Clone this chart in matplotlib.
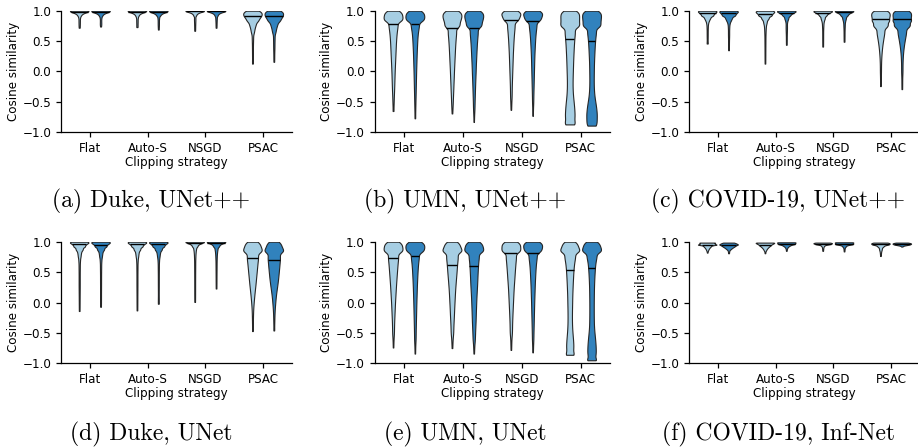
import numpy as np
import matplotlib.pyplot as plt

# Cosine similarity distributions: (value, relative density).
# Order inside each list: Flat, Auto-S, NSGD, PSAC. "_s1" = light blue, "_s2" = dark blue.
strategies = ["Flat", "Auto-S", "NSGD", "PSAC"]

duke_unetpp_s1 = [
    [(1.0, 1.0), (0.98, 0.7), (0.96, 0.4), (0.94, 0.22), (0.92, 0.12), (0.9, 0.08), (0.87, 0.065), (0.82, 0.06), (0.77, 0.055), (0.72, 0.05)],
    [(1.0, 1.0), (0.98, 0.65), (0.96, 0.37), (0.94, 0.2), (0.92, 0.11), (0.9, 0.08), (0.87, 0.065), (0.82, 0.06), (0.77, 0.055), (0.73, 0.05)],
    [(1.0, 1.0), (0.98, 0.5), (0.96, 0.25), (0.94, 0.13), (0.92, 0.08), (0.9, 0.06), (0.85, 0.05), (0.8, 0.045), (0.74, 0.04), (0.67, 0.04)],
    [(1.0, 0.75), (0.96, 1.0), (0.92, 0.95), (0.88, 0.75), (0.84, 0.55), (0.8, 0.42), (0.75, 0.3), (0.7, 0.2), (0.65, 0.13), (0.6, 0.09), (0.5, 0.06), (0.4, 0.05), (0.3, 0.045), (0.2, 0.04), (0.13, 0.04)],
]
duke_unetpp_s2 = [
    [(1.0, 1.0), (0.98, 0.7), (0.96, 0.4), (0.94, 0.22), (0.92, 0.12), (0.9, 0.08), (0.87, 0.065), (0.82, 0.06), (0.78, 0.055), (0.74, 0.05)],
    [(1.0, 1.0), (0.98, 0.7), (0.96, 0.4), (0.94, 0.22), (0.92, 0.12), (0.9, 0.08), (0.86, 0.06), (0.8, 0.05), (0.75, 0.045), (0.69, 0.04)],
    [(1.0, 1.0), (0.98, 0.55), (0.96, 0.28), (0.94, 0.15), (0.92, 0.09), (0.9, 0.06), (0.86, 0.05), (0.8, 0.045), (0.72, 0.04)],
    [(1.0, 0.8), (0.96, 1.0), (0.92, 0.97), (0.88, 0.8), (0.84, 0.6), (0.8, 0.45), (0.75, 0.32), (0.7, 0.22), (0.65, 0.14), (0.6, 0.1), (0.5, 0.07), (0.4, 0.055), (0.3, 0.05), (0.16, 0.045)],
]
duke_unetpp_med = [[0.985, 0.985, 0.99, 0.91], [0.985, 0.985, 0.99, 0.91]]

umn_unetpp_s1 = [
    [(1.0, 0.72), (0.95, 1.0), (0.9, 0.95), (0.85, 0.8), (0.8, 0.6), (0.7, 0.45), (0.6, 0.38), (0.5, 0.33), (0.4, 0.3), (0.3, 0.27), (0.2, 0.24), (0.1, 0.21), (0.0, 0.18), (-0.1, 0.16), (-0.2, 0.14), (-0.3, 0.12), (-0.4, 0.09), (-0.5, 0.07), (-0.6, 0.05), (-0.65, 0.03)],
    [(1.0, 0.72), (0.95, 1.0), (0.9, 1.0), (0.85, 0.9), (0.8, 0.72), (0.75, 0.58), (0.7, 0.5), (0.6, 0.42), (0.5, 0.37), (0.4, 0.33), (0.3, 0.3), (0.2, 0.27), (0.1, 0.24), (0.0, 0.21), (-0.1, 0.19), (-0.2, 0.16), (-0.3, 0.14), (-0.4, 0.11), (-0.5, 0.09), (-0.6, 0.06), (-0.69, 0.03)],
    [(1.0, 0.75), (0.95, 1.0), (0.9, 0.78), (0.85, 0.55), (0.8, 0.43), (0.7, 0.35), (0.6, 0.3), (0.5, 0.26), (0.4, 0.23), (0.3, 0.2), (0.2, 0.18), (0.1, 0.16), (0.0, 0.14), (-0.1, 0.12), (-0.2, 0.1), (-0.3, 0.085), (-0.4, 0.07), (-0.5, 0.055), (-0.63, 0.03)],
    [(1.0, 0.75), (0.95, 1.0), (0.9, 1.0), (0.85, 0.98), (0.8, 0.9), (0.75, 0.75), (0.7, 0.62), (0.6, 0.52), (0.5, 0.47), (0.4, 0.43), (0.3, 0.4), (0.2, 0.37), (0.1, 0.35), (0.0, 0.33), (-0.1, 0.31), (-0.2, 0.3), (-0.3, 0.31), (-0.4, 0.35), (-0.5, 0.42), (-0.6, 0.48), (-0.7, 0.52), (-0.8, 0.52), (-0.87, 0.45)],
]
umn_unetpp_s2 = [
    [(1.0, 0.72), (0.95, 1.0), (0.9, 0.95), (0.85, 0.75), (0.8, 0.55), (0.7, 0.38), (0.6, 0.3), (0.5, 0.26), (0.4, 0.23), (0.3, 0.2), (0.2, 0.18), (0.1, 0.16), (0.0, 0.14), (-0.1, 0.125), (-0.2, 0.11), (-0.3, 0.095), (-0.4, 0.08), (-0.5, 0.065), (-0.6, 0.05), (-0.7, 0.04), (-0.77, 0.03)],
    [(1.0, 0.72), (0.95, 1.0), (0.9, 1.0), (0.85, 0.92), (0.8, 0.75), (0.75, 0.6), (0.7, 0.48), (0.6, 0.4), (0.5, 0.35), (0.4, 0.31), (0.3, 0.28), (0.2, 0.25), (0.1, 0.22), (0.0, 0.2), (-0.1, 0.175), (-0.2, 0.15), (-0.3, 0.13), (-0.4, 0.11), (-0.5, 0.09), (-0.6, 0.07), (-0.7, 0.05), (-0.83, 0.02)],
    [(1.0, 0.75), (0.95, 1.0), (0.9, 0.8), (0.85, 0.58), (0.8, 0.45), (0.7, 0.34), (0.6, 0.28), (0.5, 0.24), (0.4, 0.21), (0.3, 0.18), (0.2, 0.16), (0.1, 0.145), (0.0, 0.13), (-0.1, 0.115), (-0.2, 0.1), (-0.3, 0.085), (-0.4, 0.07), (-0.5, 0.055), (-0.6, 0.04), (-0.73, 0.02)],
    [(1.0, 0.75), (0.95, 1.0), (0.9, 1.0), (0.85, 0.95), (0.8, 0.85), (0.75, 0.7), (0.7, 0.55), (0.6, 0.43), (0.5, 0.37), (0.4, 0.33), (0.3, 0.3), (0.2, 0.27), (0.1, 0.25), (0.0, 0.24), (-0.1, 0.23), (-0.2, 0.23), (-0.3, 0.25), (-0.4, 0.3), (-0.5, 0.4), (-0.6, 0.5), (-0.7, 0.56), (-0.8, 0.56), (-0.89, 0.48)],
]
umn_unetpp_med = [[0.785, 0.72, 0.846, 0.54], [0.775, 0.71, 0.83, 0.505]]

covid_unetpp_s1 = [
    [(1.0, 1.0), (0.98, 0.9), (0.96, 0.75), (0.94, 0.6), (0.92, 0.5), (0.9, 0.4), (0.87, 0.27), (0.84, 0.15), (0.81, 0.09), (0.77, 0.065), (0.7, 0.055), (0.6, 0.05), (0.5, 0.045), (0.46, 0.04)],
    [(1.0, 0.95), (0.98, 1.0), (0.96, 0.85), (0.94, 0.7), (0.92, 0.57), (0.9, 0.46), (0.87, 0.33), (0.84, 0.22), (0.8, 0.13), (0.76, 0.08), (0.7, 0.06), (0.6, 0.05), (0.4, 0.045), (0.13, 0.04)],
    [(1.0, 1.0), (0.98, 0.8), (0.96, 0.55), (0.94, 0.38), (0.92, 0.27), (0.9, 0.2), (0.87, 0.13), (0.84, 0.08), (0.8, 0.06), (0.7, 0.05), (0.41, 0.04)],
    [(1.0, 0.8), (0.96, 1.0), (0.92, 1.0), (0.88, 0.92), (0.84, 0.82), (0.8, 0.72), (0.75, 0.6), (0.7, 0.5), (0.6, 0.38), (0.5, 0.27), (0.4, 0.18), (0.3, 0.12), (0.2, 0.08), (0.1, 0.06), (0.0, 0.05), (-0.1, 0.045), (-0.24, 0.04)],
]
covid_unetpp_s2 = [
    [(1.0, 1.0), (0.98, 0.95), (0.96, 0.82), (0.94, 0.68), (0.92, 0.56), (0.9, 0.45), (0.87, 0.32), (0.84, 0.2), (0.81, 0.12), (0.77, 0.08), (0.7, 0.06), (0.6, 0.05), (0.5, 0.045), (0.35, 0.04)],
    [(1.0, 1.0), (0.98, 0.85), (0.96, 0.6), (0.94, 0.42), (0.92, 0.3), (0.9, 0.22), (0.87, 0.14), (0.84, 0.09), (0.8, 0.065), (0.7, 0.05), (0.6, 0.045), (0.44, 0.04)],
    [(1.0, 1.0), (0.98, 0.75), (0.96, 0.5), (0.94, 0.35), (0.92, 0.25), (0.9, 0.18), (0.87, 0.11), (0.84, 0.075), (0.8, 0.06), (0.7, 0.05), (0.49, 0.04)],
    [(1.0, 0.82), (0.96, 1.0), (0.92, 1.0), (0.88, 0.95), (0.84, 0.87), (0.8, 0.78), (0.75, 0.66), (0.7, 0.55), (0.6, 0.42), (0.5, 0.3), (0.4, 0.2), (0.3, 0.13), (0.2, 0.09), (0.1, 0.065), (0.0, 0.055), (-0.1, 0.05), (-0.29, 0.04)],
]
covid_unetpp_med = [[0.97, 0.945, 0.97, 0.87], [0.955, 0.97, 0.98, 0.857]]

duke_unet_s1 = [
    [(1.0, 1.0), (0.98, 0.9), (0.96, 0.7), (0.94, 0.55), (0.92, 0.47), (0.9, 0.4), (0.87, 0.3), (0.84, 0.22), (0.8, 0.14), (0.76, 0.09), (0.72, 0.07), (0.65, 0.06), (0.5, 0.055), (0.3, 0.05), (0.1, 0.045), (-0.14, 0.04)],
    [(1.0, 1.0), (0.98, 0.9), (0.96, 0.7), (0.94, 0.55), (0.92, 0.45), (0.9, 0.38), (0.87, 0.28), (0.84, 0.2), (0.8, 0.13), (0.76, 0.08), (0.72, 0.065), (0.65, 0.055), (0.5, 0.05), (0.3, 0.045), (0.1, 0.04), (-0.13, 0.04)],
    [(1.0, 1.0), (0.98, 0.6), (0.96, 0.35), (0.94, 0.22), (0.92, 0.15), (0.9, 0.11), (0.86, 0.07), (0.8, 0.05), (0.7, 0.045), (0.5, 0.04), (0.25, 0.035), (0.01, 0.035)],
    [(1.0, 0.75), (0.95, 1.0), (0.9, 1.0), (0.85, 0.92), (0.8, 0.82), (0.7, 0.7), (0.6, 0.62), (0.5, 0.55), (0.4, 0.47), (0.3, 0.4), (0.2, 0.31), (0.1, 0.23), (0.0, 0.16), (-0.1, 0.1), (-0.2, 0.075), (-0.3, 0.06), (-0.4, 0.05), (-0.47, 0.04)],
]
duke_unet_s2 = [
    [(1.0, 1.0), (0.98, 0.9), (0.96, 0.72), (0.94, 0.57), (0.92, 0.47), (0.9, 0.4), (0.87, 0.3), (0.84, 0.22), (0.8, 0.14), (0.76, 0.09), (0.72, 0.07), (0.65, 0.06), (0.5, 0.055), (0.3, 0.05), (0.1, 0.045), (-0.07, 0.04)],
    [(1.0, 1.0), (0.98, 0.9), (0.96, 0.72), (0.94, 0.57), (0.92, 0.47), (0.9, 0.4), (0.87, 0.3), (0.84, 0.21), (0.8, 0.13), (0.76, 0.08), (0.72, 0.065), (0.65, 0.055), (0.5, 0.05), (0.3, 0.045), (0.1, 0.04), (-0.02, 0.04)],
    [(1.0, 1.0), (0.98, 0.65), (0.96, 0.38), (0.94, 0.25), (0.92, 0.17), (0.9, 0.12), (0.86, 0.08), (0.8, 0.055), (0.7, 0.045), (0.5, 0.04), (0.23, 0.035)],
    [(1.0, 0.75), (0.95, 1.0), (0.9, 1.0), (0.85, 0.97), (0.8, 0.92), (0.7, 0.83), (0.6, 0.76), (0.5, 0.68), (0.4, 0.6), (0.3, 0.5), (0.2, 0.38), (0.1, 0.27), (0.0, 0.2), (-0.1, 0.13), (-0.2, 0.09), (-0.3, 0.07), (-0.4, 0.055), (-0.46, 0.045)],
]
duke_unet_med = [[0.956, 0.96, 0.98, 0.74], [0.95, 0.956, 0.985, 0.70]]

umn_unet_s1 = [
    [(1.0, 0.72), (0.95, 1.0), (0.9, 0.95), (0.85, 0.8), (0.8, 0.65), (0.7, 0.55), (0.6, 0.49), (0.5, 0.44), (0.4, 0.39), (0.3, 0.34), (0.2, 0.3), (0.1, 0.26), (0.0, 0.22), (-0.1, 0.19), (-0.2, 0.16), (-0.3, 0.13), (-0.4, 0.11), (-0.5, 0.09), (-0.6, 0.06), (-0.74, 0.03)],
    [(1.0, 0.72), (0.95, 1.0), (0.9, 1.0), (0.85, 0.95), (0.8, 0.85), (0.7, 0.72), (0.6, 0.65), (0.5, 0.6), (0.4, 0.53), (0.3, 0.47), (0.2, 0.41), (0.1, 0.37), (0.0, 0.33), (-0.1, 0.29), (-0.2, 0.26), (-0.3, 0.22), (-0.4, 0.18), (-0.5, 0.14), (-0.6, 0.1), (-0.75, 0.04)],
    [(1.0, 0.75), (0.95, 1.0), (0.9, 0.9), (0.85, 0.75), (0.8, 0.62), (0.7, 0.52), (0.6, 0.47), (0.5, 0.42), (0.4, 0.38), (0.3, 0.33), (0.2, 0.29), (0.1, 0.26), (0.0, 0.23), (-0.1, 0.2), (-0.2, 0.17), (-0.3, 0.145), (-0.4, 0.12), (-0.5, 0.095), (-0.6, 0.07), (-0.78, 0.03)],
    [(1.0, 0.75), (0.95, 1.0), (0.9, 1.0), (0.85, 0.95), (0.8, 0.82), (0.7, 0.62), (0.6, 0.52), (0.5, 0.46), (0.4, 0.42), (0.3, 0.38), (0.2, 0.35), (0.1, 0.32), (0.0, 0.31), (-0.1, 0.29), (-0.2, 0.28), (-0.3, 0.28), (-0.4, 0.3), (-0.5, 0.35), (-0.6, 0.42), (-0.7, 0.47), (-0.8, 0.47), (-0.86, 0.42)],
]
umn_unet_s2 = [
    [(1.0, 0.72), (0.95, 1.0), (0.9, 0.92), (0.85, 0.7), (0.8, 0.5), (0.7, 0.38), (0.6, 0.32), (0.5, 0.28), (0.4, 0.25), (0.3, 0.22), (0.2, 0.2), (0.1, 0.18), (0.0, 0.16), (-0.1, 0.145), (-0.2, 0.13), (-0.3, 0.115), (-0.4, 0.1), (-0.5, 0.085), (-0.6, 0.07), (-0.7, 0.05), (-0.84, 0.03)],
    [(1.0, 0.72), (0.95, 1.0), (0.9, 0.98), (0.85, 0.85), (0.8, 0.7), (0.7, 0.55), (0.6, 0.5), (0.5, 0.46), (0.4, 0.43), (0.3, 0.4), (0.2, 0.36), (0.1, 0.32), (0.0, 0.29), (-0.1, 0.265), (-0.2, 0.24), (-0.3, 0.22), (-0.4, 0.19), (-0.5, 0.155), (-0.6, 0.12), (-0.7, 0.08), (-0.84, 0.03)],
    [(1.0, 0.75), (0.95, 1.0), (0.9, 0.88), (0.85, 0.65), (0.8, 0.5), (0.7, 0.38), (0.6, 0.32), (0.5, 0.28), (0.4, 0.25), (0.3, 0.22), (0.2, 0.2), (0.1, 0.18), (0.0, 0.16), (-0.1, 0.145), (-0.2, 0.13), (-0.3, 0.115), (-0.4, 0.1), (-0.5, 0.085), (-0.6, 0.07), (-0.7, 0.05), (-0.82, 0.03)],
    [(1.0, 0.75), (0.95, 1.0), (0.9, 1.0), (0.85, 0.9), (0.8, 0.75), (0.7, 0.52), (0.6, 0.43), (0.5, 0.38), (0.4, 0.34), (0.3, 0.31), (0.2, 0.29), (0.1, 0.28), (0.0, 0.27), (-0.1, 0.27), (-0.2, 0.27), (-0.3, 0.28), (-0.4, 0.3), (-0.5, 0.36), (-0.6, 0.44), (-0.7, 0.5), (-0.8, 0.53), (-0.9, 0.5), (-0.95, 0.42)],
]
umn_unet_med = [[0.736, 0.615, 0.81, 0.533], [0.758, 0.604, 0.82, 0.57]]

covid_infnet_s1 = [
    [(0.985, 0.9), (0.975, 1.0), (0.96, 0.95), (0.95, 0.8), (0.94, 0.65), (0.92, 0.45), (0.9, 0.3), (0.88, 0.2), (0.86, 0.12), (0.84, 0.07), (0.82, 0.04)],
    [(0.985, 0.9), (0.975, 1.0), (0.96, 0.9), (0.94, 0.7), (0.92, 0.5), (0.9, 0.35), (0.88, 0.22), (0.86, 0.13), (0.84, 0.07), (0.81, 0.04)],
    [(0.985, 0.85), (0.975, 1.0), (0.965, 0.85), (0.955, 0.5), (0.945, 0.25), (0.93, 0.12), (0.91, 0.08), (0.88, 0.05), (0.85, 0.04)],
    [(0.985, 0.85), (0.97, 1.0), (0.955, 0.8), (0.94, 0.45), (0.92, 0.25), (0.9, 0.17), (0.87, 0.12), (0.84, 0.08), (0.8, 0.05), (0.765, 0.03)],
]
covid_infnet_s2 = [
    [(0.985, 0.75), (0.97, 0.92), (0.955, 1.0), (0.94, 0.95), (0.92, 0.7), (0.9, 0.45), (0.88, 0.25), (0.86, 0.12), (0.83, 0.06), (0.81, 0.04)],
    [(0.99, 0.85), (0.98, 1.0), (0.965, 0.9), (0.95, 0.6), (0.93, 0.3), (0.91, 0.15), (0.89, 0.08), (0.87, 0.05), (0.85, 0.04)],
    [(0.99, 0.85), (0.98, 1.0), (0.965, 0.9), (0.955, 0.6), (0.94, 0.3), (0.92, 0.15), (0.9, 0.08), (0.87, 0.05), (0.84, 0.04)],
    [(0.985, 0.7), (0.975, 0.95), (0.965, 1.0), (0.955, 0.85), (0.945, 0.5), (0.935, 0.2), (0.92, 0.05)],
]
covid_infnet_med = [[0.94, 0.94, 0.965, 0.955], [0.94, 0.965, 0.965, 0.955]]

panels = [
    ("(a) Duke, UNet++", duke_unetpp_s1, duke_unetpp_s2, duke_unetpp_med),
    ("(b) UMN, UNet++", umn_unetpp_s1, umn_unetpp_s2, umn_unetpp_med),
    ("(c) COVID-19, UNet++", covid_unetpp_s1, covid_unetpp_s2, covid_unetpp_med),
    ("(d) Duke, UNet", duke_unet_s1, duke_unet_s2, duke_unet_med),
    ("(e) UMN, UNet", umn_unet_s1, umn_unet_s2, umn_unet_med),
    ("(f) COVID-19, Inf-Net", covid_infnet_s1, covid_infnet_s2, covid_infnet_med),
]

colors = ["#a6cee3", "#3182bd"]
offsets = [-0.185, 0.185]
vwidth = 0.32


def violin_stats(knots, npts=300):
    # gaussian KDE over the knots, bandwidth follows knot spacing, cut at min/max
    v = np.array([k[0] for k in knots], dtype=float)
    d = np.array([k[1] for k in knots], dtype=float)
    idx = np.argsort(v)
    v, d = v[idx], d[idx]
    gaps = np.diff(v)
    lo = np.r_[gaps[0], gaps]
    hi = np.r_[gaps, gaps[-1]]
    sig = 0.65 * np.maximum(lo, hi)
    coords = np.linspace(v[0], v[-1], npts)
    z = (coords[:, None] - v[None, :]) / sig[None, :]
    dens = (d * np.exp(-0.5 * z ** 2)).sum(axis=1)
    return dict(coords=coords, vals=dens, mean=np.average(v, weights=d),
                median=np.nan, min=v[0], max=v[-1])


fig = plt.figure(figsize=(9.18, 4.47), dpi=100)
W, H = 918, 447
# axes boxes in pixels: left, top, width
boxes = [(61, 10.7, 231), (374.5, 10.7, 235.6), (689, 10.7, 231),
         (61, 241.7, 231), (374.5, 241.7, 235.6), (689, 241.7, 231)]
caption_x = [151, 465.5, 778, 151.5, 465.5, 778.5]
caption_y = [201.7, 201.7, 201.7, 434, 434, 434]

for i, (title, s1, s2, med) in enumerate(panels):
    left, top, w = boxes[i]
    ax = fig.add_axes([left / W, 1 - (top + 121.6) / H, w / W, 121.6 / H])
    x = np.arange(len(strategies))
    for j, series in enumerate([s1, s2]):
        stats = [violin_stats(k) for k in series]
        pos = x + offsets[j]
        parts = ax.violin(stats, positions=pos, widths=vwidth, showextrema=False)
        for body in parts["bodies"]:
            body.set_facecolor(colors[j])
            body.set_edgecolor("0.15")
            body.set_linewidth(0.8)
            body.set_alpha(1)
        for p, st, m in zip(pos, stats, med[j]):
            half = 0.5 * vwidth * np.interp(m, st["coords"], st["vals"]) / st["vals"].max()
            ax.plot([p - half, p + half], [m, m], color="black", lw=1.0, solid_capstyle="butt")
    ax.set_xlim(-0.5, 3.5)
    ax.set_ylim(-1, 1)
    ax.set_yticks([-1.0, -0.5, 0.0, 0.5, 1.0])
    ax.set_yticklabels(["\u22121.0", "\u22120.5", "0.0", "0.5", "1.0"])
    ax.set_xticks(x)
    ax.set_xticklabels(strategies)
    ax.tick_params(labelsize=8.6, width=0.9, length=3.5)
    ax.set_xlabel("Clipping strategy", fontsize=8.6, labelpad=1)
    ax.set_ylabel("Cosine similarity", fontsize=8.6, labelpad=2)
    ax.spines["top"].set_visible(False)
    ax.spines["right"].set_visible(False)
    for s in ["left", "bottom"]:
        ax.spines[s].set_linewidth(0.9)
    fig.text(caption_x[i] / W, 1 - caption_y[i] / H, title, ha="center", va="center",
             fontsize=17, family="cmr10")

fig.savefig("out.png", dpi=100)
